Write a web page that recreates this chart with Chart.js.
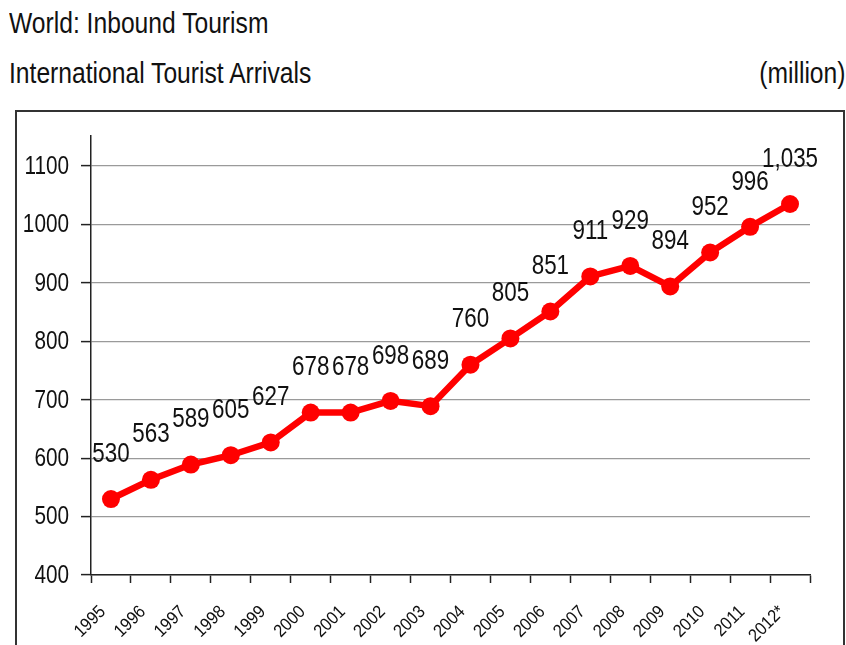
<!DOCTYPE html>
<html>
<head>
<meta charset="utf-8">
<script src="https://cdn.jsdelivr.net/npm/chart.js@4.4.0/dist/chart.umd.min.js"></script>
<style>
  body { margin: 0; background: #fff; width: 846px; height: 645px; overflow: hidden; position: relative; }
  .txt { position: absolute; font-family: "Liberation Sans", Arial, sans-serif; font-size: 29px; color: #111; white-space: nowrap; line-height: 1; transform: scaleX(0.85); transform-origin: left top; }
  .txt.right { transform-origin: right top; }
  #box { position: absolute; left: 15px; top: 110px; width: 826px; height: 600px; border: 2px solid #333; }
  #chartWrap { position: absolute; left: 0; top: 0; width: 846px; height: 645px; }
</style>
</head>
<body>
<div class="txt" style="left:9px; top:9px;">World: Inbound Tourism</div>
<div class="txt" style="left:9px; top:59px;">International Tourist Arrivals</div>
<div class="txt right" style="right:1px; top:59px;">(million)</div>
<div id="box"></div>
<div id="chartWrap"><canvas id="chartArrivals" width="846" height="645"></canvas></div>
<script>
const years = ["1995", "1996", "1997", "1998", "1999", "2000", "2001", "2002", "2003",
    "2004", "2005", "2006", "2007", "2008", "2009", "2010", "2011", "2012*"];
const arrivals = [530, 563, 589, 605, 627, 678, 678, 698, 689, 760, 805, 851, 911, 929, 894, 952, 996, 1035];
const arrivalLabels = ["530", "563", "589", "605", "627", "678", "678", "698", "689",
    "760", "805", "851", "911", "929", "894", "952", "996", "1,035"];
const yTicks = [400, 500, 600, 700, 800, 900, 1000, 1100];

const fontFam = "'Liberation Sans', Arial, sans-serif";

// draw text squeezed horizontally (the original uses a narrow face)
const narrowText = (ctx, text, x, y, size, squeeze, align, angle = 0) => {
    ctx.save();
    ctx.translate(x, y);
    ctx.rotate(angle);
    ctx.scale(squeeze, 1);
    ctx.font = size + "px " + fontFam;
    ctx.textAlign = align;
    ctx.textBaseline = "middle";
    ctx.fillText(text, 0, 0);
    ctx.restore();
};

// value labels, y tick labels and rotated year labels
const textLayer = {
    id: "textLayer",
    afterDraw(chart) {
        const ctx = chart.ctx;
        ctx.save();
        ctx.fillStyle = "#111";

        const meta = chart.getDatasetMeta(0);
        meta.data.forEach((pt, i) => {
            narrowText(ctx, arrivalLabels[i], pt.x, pt.y - 45, 28, 0.8, "center");
        });

        const ys = chart.scales.y;
        ys.ticks.forEach(t => {
            narrowText(ctx, String(t.value), 69, ys.getPixelForValue(t.value) + 1, 25, 0.83, "right");
        });

        const xs = chart.scales.x;
        years.forEach((lab, i) => {
            narrowText(ctx, lab, xs.getPixelForTick(i) - 8, 609, 18, 0.9, "right", -Math.PI / 4);
        });
        ctx.restore();
    }
};

new Chart(document.getElementById("chartArrivals"), {
    type: "line",
    data: {
        labels: years,
        datasets: [{
            data: arrivals,
            borderColor: "#ff0000",
            backgroundColor: "#ff0000",
            borderWidth: 6.5,
            pointRadius: 9,
            pointHoverRadius: 9,
            pointBorderWidth: 0,
            tension: 0
        }]
    },
    options: {
        responsive: false,
        animation: false,
        layout: { padding: { top: 136, right: 36, left: 0, bottom: 0 } },
        plugins: { legend: { display: false }, tooltip: { enabled: false } },
        scales: {
            x: {
                offset: true,
                grid: { offset: true, drawOnChartArea: false, tickLength: 8, tickColor: "#222", tickWidth: 1.5 },
                border: { color: "#222", width: 1.5 },
                ticks: { display: false },
                afterFit(scale) { scale.height = 70; }
            },
            y: {
                min: 400,
                max: 1151.4,
                afterBuildTicks(scale) { scale.ticks = yTicks.map(v => ({ value: v })); },
                grid: { color: "#9a9a9a", lineWidth: 1.2, tickLength: 10, tickColor: "#222", tickWidth: 1.5 },
                border: { color: "#222", width: 1.5 },
                ticks: { display: false },
                afterFit(scale) { scale.width = 91; }
            }
        }
    },
    plugins: [textLayer]
});
</script>
</body>
</html>
